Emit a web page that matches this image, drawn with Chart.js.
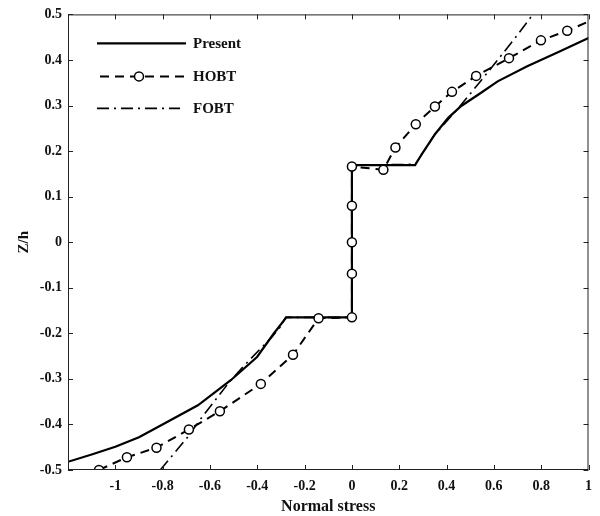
<!DOCTYPE html>
<html lang="en">
<head>
<meta charset="UTF-8">
<title>Normal stress vs Z/h</title>
<script src="https://cdn.jsdelivr.net/npm/chart.js"></script>
<style>
  html, body { margin: 0; padding: 0; background: #ffffff; }
  #wrap { width: 600px; height: 516px; }
</style>
</head>
<body>
<div id="wrap"><canvas id="myChart"></canvas></div>
<script>
// tick values
const xTicks = [-1, -0.8, -0.6, -0.4, -0.2, 0, 0.2, 0.4, 0.6, 0.8, 1];
const yTicks = [-0.5, -0.4, -0.3, -0.2, -0.1, 0, 0.1, 0.2, 0.3, 0.4, 0.5];

// Present (solid)
const presentX = [-1.2, -1.1, -1.0, -0.9, -0.818, -0.651, -0.512, -0.401, -0.331, -0.277, 0, 0, 0.267, 0.295, 0.351, 0.407, 0.462, 0.546, 0.616, 0.741, 0.88, 1.0];
const presentY = [-0.482, -0.466, -0.449, -0.428, -0.405, -0.358, -0.303, -0.252, -0.201, -0.165, -0.165, 0.169, 0.169, 0.193, 0.237, 0.273, 0.299, 0.328, 0.353, 0.386, 0.419, 0.448];

// HOBT (dashed, circles)
const hobtX = [-1.069, -0.951, -0.826, -0.689, -0.558, -0.385, -0.249, -0.141, 0, 0, 0, 0, 0, 0.133, 0.184, 0.270, 0.351, 0.423, 0.525, 0.664, 0.799, 0.910, 1.07];
const hobtY = [-0.5, -0.472, -0.451, -0.411, -0.371, -0.311, -0.247, -0.167, -0.165, -0.069, 0, 0.080, 0.166, 0.159, 0.208, 0.259, 0.298, 0.330, 0.365, 0.404, 0.443, 0.464, 0.5];

// FOBT (dash-dot)
const fobtX = [-0.81, -0.693, -0.638, -0.512, -0.45, -0.387, -0.338, -0.303, -0.28, 0, 0, 0.267, 0.30, 0.35, 0.448, 0.54, 0.63, 0.70, 0.765];
const fobtY = [-0.5, -0.427, -0.387, -0.303, -0.268, -0.234, -0.208, -0.186, -0.165, -0.165, 0.169, 0.171, 0.196, 0.236, 0.293, 0.351, 0.409, 0.455, 0.5];

const toPoints = ( xs, ys ) => xs.map( ( x, i ) => ( { x: x, y: ys[ i ] } ) );

const serif = '"Liberation Serif", "DejaVu Serif", serif';

// box, inward ticks and legend drawn on top
const framePlugin = {
    id: 'frame',
    afterDraw( chart ) {
        const ctx = chart.ctx;
        const a = chart.chartArea;
        const xs = chart.scales.x;
        const ys = chart.scales.y;
        ctx.save();
        ctx.strokeStyle = '#222';
        ctx.lineWidth = 1;
        ctx.setLineDash( [] );
        ctx.strokeRect( a.left + 0.5, a.top + 0.5, a.right - a.left - 1, a.bottom - a.top - 1 );
        ctx.beginPath();
        for ( const v of xTicks ) {
            const px = Math.round( xs.getPixelForValue( v ) ) + 0.5;
            ctx.moveTo( px, a.bottom ); ctx.lineTo( px, a.bottom - 5 );
            ctx.moveTo( px, a.top ); ctx.lineTo( px, a.top + 5 );
        }
        for ( const v of yTicks ) {
            const py = Math.round( ys.getPixelForValue( v ) ) + 0.5;
            ctx.moveTo( a.left, py ); ctx.lineTo( a.left + 5, py );
            ctx.moveTo( a.right, py ); ctx.lineTo( a.right - 5, py );
        }
        ctx.stroke();

        // legend
        const rows = [ 29, 62, 94 ];
        const spans = [ [ 29, 118 ], [ 32, 118 ], [ 29, 112 ] ];
        ctx.font = 'bold 15px ' + serif;
        ctx.fillStyle = '#111';
        ctx.textBaseline = 'middle';
        chart.data.datasets.forEach( ( ds, i ) => {
            const li = ds.legendIndex;
            const y = a.top + rows[ li ];
            const x0 = a.left + spans[ li ][ 0 ];
            const x1 = a.left + spans[ li ][ 1 ];
            ctx.strokeStyle = '#000';
            ctx.lineWidth = ds.borderWidth;
            ctx.setLineDash( ds.borderDash || [] );
            ctx.beginPath();
            ctx.moveTo( x0, y ); ctx.lineTo( x1, y );
            ctx.stroke();
            ctx.setLineDash( [] );
            if ( ds.pointRadius > 0 ) {
                ctx.beginPath();
                ctx.arc( ( x0 + x1 ) / 2 - 4, y, ds.pointRadius, 0, Math.PI * 2 );
                ctx.fillStyle = '#fff';
                ctx.fill();
                ctx.lineWidth = ds.pointBorderWidth;
                ctx.stroke();
                ctx.fillStyle = '#111';
            }
            ctx.fillText( ds.label, a.left + 125, y + 1 );
        } );
        ctx.restore();
    }
};

const ctx = document.getElementById( 'myChart' ).getContext( '2d' );
const myChart = new Chart( ctx, {
    type: 'scatter',
    data: {
        datasets: [
            {
                label: 'HOBT',
                legendIndex: 1,
                data: toPoints( hobtX, hobtY ),
                showLine: true,
                borderColor: '#000',
                borderWidth: 2,
                borderDash: [ 9, 6 ],
                pointRadius: 4.5,
                pointBorderWidth: 1.5,
                pointBackgroundColor: '#fff',
                pointBorderColor: '#000',
                tension: 0
            },
            {
                label: 'Present',
                legendIndex: 0,
                data: toPoints( presentX, presentY ),
                showLine: true,
                borderColor: '#000',
                borderWidth: 2.2,
                pointRadius: 0,
                tension: 0
            },
            {
                label: 'FOBT',
                legendIndex: 2,
                data: toPoints( fobtX, fobtY ),
                showLine: true,
                borderColor: '#000',
                borderWidth: 1.6,
                borderDash: [ 12, 5, 2, 5 ],
                pointRadius: 0,
                tension: 0
            }
        ]
    },
    options: {
        responsive: true,
        maintainAspectRatio: false,
        animation: false,
        events: [],
        layout: { padding: { top: 13, right: 5, left: 0, bottom: 0 } },
        plugins: {
            legend: { display: false },
            tooltip: { enabled: false }
        },
        scales: {
            x: {
                type: 'linear',
                min: -1.2,
                max: 1,
                afterBuildTicks: s => { s.ticks = xTicks.map( v => ( { value: v } ) ); },
                afterFit: s => { s.height = 46; },
                grid: { display: false, drawTicks: false },
                border: { display: false },
                ticks: {
                    autoSkip: false,
                    maxRotation: 0,
                    padding: 8,
                    color: '#111',
                    font: { family: serif, size: 14, weight: 'bold' },
                    callback: v => String( v )
                },
                title: {
                    display: true,
                    text: 'Normal stress',
                    color: '#111',
                    padding: { top: 2, bottom: 0 },
                    font: { family: serif, size: 16, weight: 'bold' }
                }
            },
            y: {
                type: 'linear',
                min: -0.5,
                max: 0.5,
                afterBuildTicks: s => { s.ticks = yTicks.map( v => ( { value: v } ) ); },
                afterFit: s => { s.width = 68; },
                grid: { display: false, drawTicks: false },
                border: { display: false },
                ticks: {
                    autoSkip: false,
                    padding: 6,
                    color: '#111',
                    font: { family: serif, size: 14, weight: 'bold' },
                    callback: v => String( v )
                },
                title: {
                    display: true,
                    text: 'Z/h',
                    color: '#111',
                    padding: { top: 15, bottom: 0 },
                    font: { family: serif, size: 15, weight: 'bold' }
                }
            }
        }
    },
    plugins: [ framePlugin ]
} );
</script>
</body>
</html>
